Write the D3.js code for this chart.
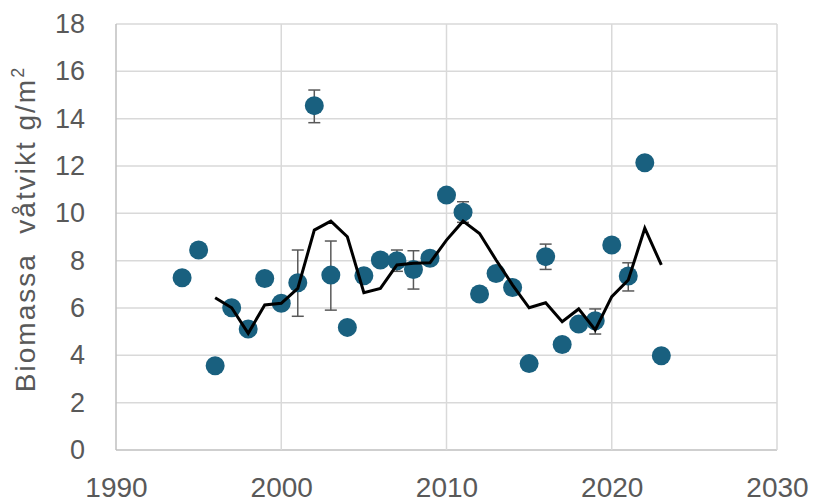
<!DOCTYPE html>
<html><head><meta charset="utf-8">
<script src="https://cdn.jsdelivr.net/npm/d3@7"></script>
<style>body{margin:0;background:#fff}svg{display:block}text{font-family:"Liberation Sans",Arial,sans-serif;fill:#595959}</style>
</head><body><svg id="c" width="815" height="503"></svg>
<script>
const years = [1994,1995,1996,1997,1998,1999,2000,2001,2002,2003,2004,2005,2006,2007,2008,2009,2010,2011,2012,2013,2014,2015,2016,2017,2018,2019,2020,2021,2022,2023];
const biomass = [7.28,8.45,3.56,6.01,5.11,7.25,6.20,7.07,14.55,7.39,5.18,7.36,8.03,8.00,7.63,8.10,10.77,10.05,6.59,7.46,6.87,3.65,8.17,4.46,5.32,5.46,8.66,7.35,12.14,3.98];
const errYears = [2001,2002,2003,2007,2008,2011,2016,2019,2021];
const errLow  = [5.65,13.83,5.91,7.55,6.80,9.62,7.63,4.90,6.72];
const errHigh = [8.45,15.21,8.83,8.45,8.42,10.49,8.70,5.96,7.91];
const avgYears = [1996,1997,1998,1999,2000,2001,2002,2003,2004,2005,2006,2007,2008,2009,2010,2011,2012,2013,2014,2015,2016,2017,2018,2019,2020,2021,2022,2023];
const avgValues = [6.43,6.01,4.93,6.13,6.20,6.83,9.29,9.67,9.01,6.65,6.83,7.82,7.89,7.91,8.87,9.67,9.15,8.03,6.97,6.01,6.22,5.42,5.96,5.07,6.48,7.18,9.37,7.82];
const xTicks = [1990,2000,2010,2020,2030];
const yTicks = [0,2,4,6,8,10,12,14,16,18];

const svg = d3.select("#c");
const L=116,R=777,T=24,B=450;
const x = d3.scaleLinear().domain([1990,2030]).range([L,R]);
const y = d3.scaleLinear().domain([0,18]).range([B,T]);
const FF = '"Liberation Sans",Arial,sans-serif';

// gridlines
svg.append("g").selectAll("line").data(yTicks).join("line")
  .attr("x1",L).attr("x2",R).attr("y1",d=>y(d)).attr("y2",d=>y(d))
  .attr("stroke",d=>d===0?"#bfbfbf":"#d9d9d9").attr("stroke-width",1.5);
svg.append("g").selectAll("line").data(xTicks).join("line")
  .attr("y1",T).attr("y2",B).attr("x1",d=>x(d)).attr("x2",d=>x(d))
  .attr("stroke",d=>d===1990?"#bfbfbf":"#d9d9d9").attr("stroke-width",1.5);

// axes labels via d3 axes
const ya = svg.append("g").attr("transform",`translate(${L},0)`)
  .call(d3.axisLeft(y).tickValues(yTicks).tickSize(0).tickPadding(31));
ya.select(".domain").remove();
ya.selectAll("text").attr("font-size",27).style("font-family",FF).attr("fill","#595959");
const xa = svg.append("g").attr("transform",`translate(0,${B})`)
  .call(d3.axisBottom(x).tickValues(xTicks).tickFormat(d3.format("d")).tickSize(0).tickPadding(27));
xa.select(".domain").remove();
xa.selectAll("text").attr("font-size",28).style("font-family",FF).attr("fill","#595959");

// y title
const t = svg.append("text").attr("transform",`translate(35,229) rotate(-90)`)
  .attr("text-anchor","middle").attr("font-size",28).attr("letter-spacing",2);
t.append("tspan").text("Biomassa\u00a0\u00a0våtvikt g/m");
t.append("tspan").attr("dy",-11).attr("font-size",18).text("2");

// error bars
const eg = svg.append("g").attr("stroke","#595959").attr("stroke-width",1.5);
errYears.forEach((yr,i)=>{
  const cx=x(yr);
  eg.append("line").attr("x1",cx).attr("x2",cx).attr("y1",y(errLow[i])).attr("y2",y(errHigh[i]));
  eg.append("line").attr("x1",cx-6).attr("x2",cx+6).attr("y1",y(errLow[i])).attr("y2",y(errLow[i]));
  eg.append("line").attr("x1",cx-6).attr("x2",cx+6).attr("y1",y(errHigh[i])).attr("y2",y(errHigh[i]));
});

// points
svg.append("g").selectAll("circle").data(years).join("circle")
  .attr("cx",d=>x(d)).attr("cy",(d,i)=>y(biomass[i])).attr("r",9.5).attr("fill","#19607f");

// moving average line
svg.append("path").datum(avgYears.map((d,i)=>[d,avgValues[i]]))
  .attr("d",d3.line().x(d=>x(d[0])).y(d=>y(d[1])))
  .attr("fill","none").attr("stroke","#000").attr("stroke-width",3).attr("stroke-linejoin","miter");
</script></body></html>
